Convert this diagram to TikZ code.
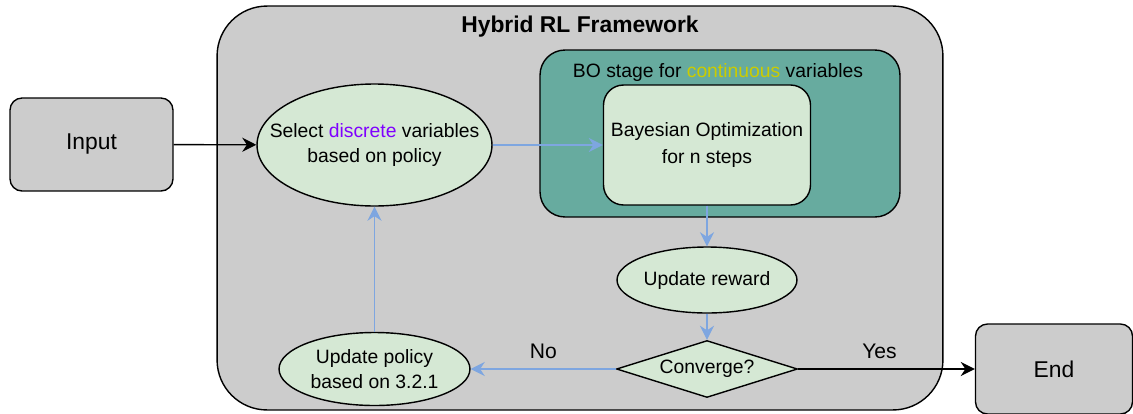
\documentclass[tikz,border=0pt]{standalone}
\usepackage{fontspec}
\setmainfont{Liberation Sans}
\usetikzlibrary{shapes.geometric,arrows.meta}
\definecolor{boxgray}{RGB}{204,204,204}
\definecolor{boteal}{RGB}{103,171,159}
\definecolor{lightgreen}{RGB}{213,232,212}
\definecolor{flowblue}{RGB}{126,166,224}
\definecolor{discpurple}{RGB}{127,0,255}
\definecolor{contyellow}{RGB}{204,204,0}
\tikzset{
  roundbox/.style={draw, thick, rounded corners=0.24cm, fill=boxgray, font=\fontsize{13}{15}\selectfont},
  oval/.style={draw, thick, ellipse, fill=lightgreen, inner sep=0pt},
  ovaltext/.style={align=center, font=\fontsize{11}{14.5}\selectfont},
  blueflow/.style={draw=flowblue, thick, -{Stealth[length=8pt,width=8pt]}},
  blackflow/.style={draw=black, thick, -{Stealth[length=8pt,width=8pt]}},
  flowlabel/.style={above, black, font=\fontsize{12}{14}\selectfont, yshift=2pt}
}
\begin{document}
\begin{tikzpicture}[x=0.02cm, y=-0.02cm]
      \useasboundingbox (0,0) rectangle (1133,413) ;
      % framework
      \node[draw, thick, rounded corners=1cm, fill=boxgray, minimum width=14.52cm, minimum height=8.08cm] %
      (frame) at (580,208) {} ;
      \node[font=\fontsize{13}{15}\selectfont\bfseries] (title) at (580,27) {Hybrid RL Framework} ;
      % BO stage
      \node[draw, thick, rounded corners=0.5cm, fill=boteal, minimum width=7.2cm, minimum height=3.34cm] %
      (bostage) at (720,133.5) {} ;
      \node[font=\fontsize{11}{13}\selectfont] (bolabel) at (718,72) %
      {BO stage for \textcolor{contyellow}{continuous} variables} ;
      \node[draw, thick, rounded corners=0.4cm, fill=lightgreen, minimum width=4.14cm, minimum height=2.4cm, %
      ovaltext, font=\fontsize{11}{15.5}\selectfont] (bayes) at (707,145) {Bayesian Optimization\\for n steps} ;
      % outside boxes
      \node[roundbox, minimum width=3.26cm, minimum height=1.86cm] (input) at (91.5,144.5) {Input} ;
      \node[roundbox, minimum width=3.14cm, minimum height=1.8cm] (end) at (1054,369) {End} ;
      % flow nodes
      \node[oval, minimum width=4.7cm, minimum height=2.44cm, %
      label={[ovaltext]center:{Select \textcolor{discpurple}{discrete} variables\\based on policy}}] %
      (select) at (374.5,145) {} ;
      \node[oval, minimum width=3.6cm, minimum height=1.32cm, %
      label={[ovaltext]center:Update reward}] (reward) at (707,280) {} ;
      \node[draw, thick, diamond, aspect=3, fill=lightgreen, inner sep=0pt, minimum width=3.62cm, %
      minimum height=1.14cm, font=\fontsize{11}{13}\selectfont] (conv) at (707,369) {Converge?} ;
      \node[oval, minimum width=3.82cm, minimum height=1.46cm, %
      label={[ovaltext]center:{Update policy\\based on 3.2.1}}] (policy) at (374.5,369) {} ;
      % connectors
      \draw[blackflow] (input) -- (select) ;
      \draw[blueflow] (select) -- (bayes) ;
      \draw[blueflow] (bayes) -- (reward) ;
      \draw[blueflow] (reward) -- (conv) ;
      \draw[blueflow] (conv) -- node[flowlabel] {No} (policy) ;
      \draw[blueflow] (policy) -- (select) ;
      \draw[blackflow] (conv) -- node[flowlabel, xshift=-4pt] {Yes} (end) ;
    \end{tikzpicture}
\end{document}
